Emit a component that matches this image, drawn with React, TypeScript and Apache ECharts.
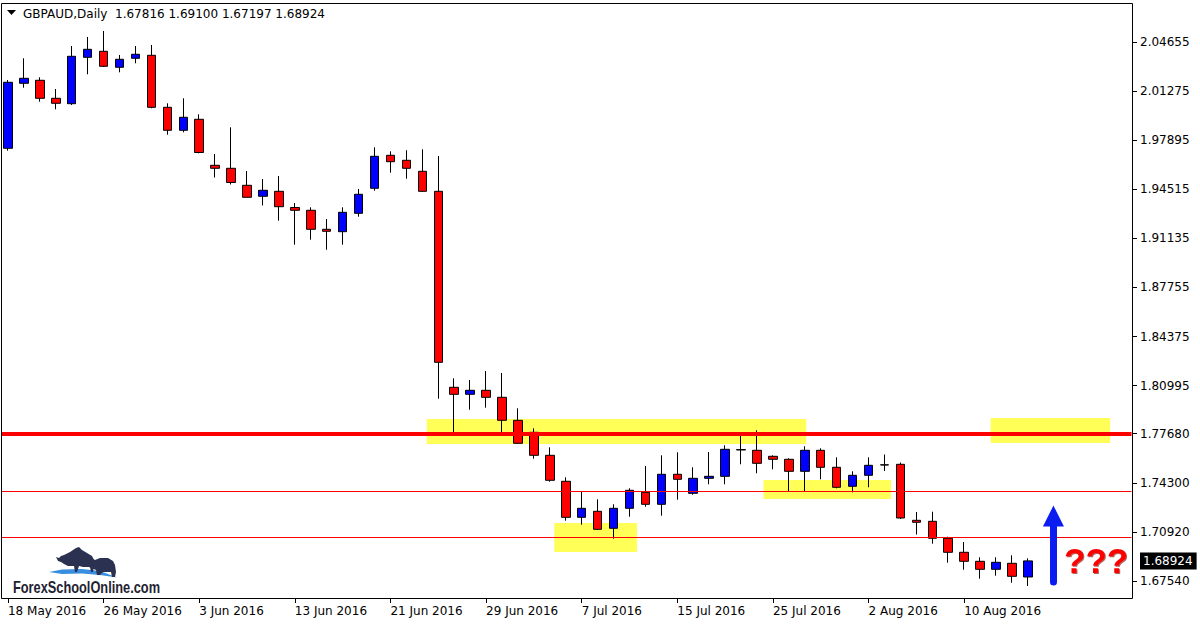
import React, { useEffect, useRef } from 'react';
import * as echarts from 'echarts';

const SYMBOL = 'GBPAUD,Daily';

const dates = [
  '18 May 2016','19 May 2016','20 May 2016','23 May 2016','24 May 2016','25 May 2016','26 May 2016','27 May 2016','30 May 2016','31 May 2016',
  '1 Jun 2016','2 Jun 2016','3 Jun 2016','6 Jun 2016','7 Jun 2016','8 Jun 2016','9 Jun 2016','10 Jun 2016','13 Jun 2016','14 Jun 2016',
  '15 Jun 2016','16 Jun 2016','17 Jun 2016','20 Jun 2016','21 Jun 2016','22 Jun 2016','23 Jun 2016','24 Jun 2016','27 Jun 2016','28 Jun 2016',
  '29 Jun 2016','30 Jun 2016','1 Jul 2016','4 Jul 2016','5 Jul 2016','6 Jul 2016','7 Jul 2016','8 Jul 2016','11 Jul 2016','12 Jul 2016',
  '13 Jul 2016','14 Jul 2016','15 Jul 2016','18 Jul 2016','19 Jul 2016','20 Jul 2016','21 Jul 2016','22 Jul 2016','25 Jul 2016','26 Jul 2016',
  '27 Jul 2016','28 Jul 2016','29 Jul 2016','1 Aug 2016','2 Aug 2016','3 Aug 2016','4 Aug 2016','5 Aug 2016','8 Aug 2016','9 Aug 2016',
  '10 Aug 2016','11 Aug 2016','12 Aug 2016','15 Aug 2016','16 Aug 2016'
];

const opens = [
  1.97335, 2.01811, 2.02018, 2.00778, 2.00406, 2.03601, 2.04015, 2.02913, 2.03532, 2.03739,
  2.00158, 1.98575, 1.99332, 1.96165, 1.95958, 1.94787, 1.94030, 1.94374, 1.93259, 1.93066,
  1.91758, 1.91592, 1.92859, 1.94581, 1.96853, 1.96509, 1.95751, 1.94374, 1.80877, 1.80395,
  1.80671, 1.80189, 1.78605, 1.77779, 1.76195, 1.74405, 1.71926, 1.72339, 1.71168, 1.72545,
  1.73647, 1.72821, 1.74887, 1.73578, 1.74611, 1.74749, 1.76594, 1.76539, 1.76126, 1.75920,
  1.75093, 1.76539, 1.75369, 1.74060, 1.74818, 1.75541, 1.75575, 1.71719, 1.71650, 1.70480,
  1.69516, 1.68896, 1.68345, 1.68758, 1.67816
];
const closes = [
  2.01880, 2.02155, 2.00778, 2.00434, 2.03670, 2.04152, 2.02982, 2.03464, 2.03808, 2.00158,
  1.98575, 1.99470, 1.97046, 1.95958, 1.94980, 1.93961, 1.94443, 1.93314, 1.93066, 1.91758,
  1.91620, 1.92928, 1.94167, 1.96784, 1.96412, 1.95958, 1.94374, 1.82599, 1.80395, 1.80671,
  1.80189, 1.78605, 1.77021, 1.76195, 1.74474, 1.71926, 1.72545, 1.71099, 1.72545, 1.73785,
  1.72821, 1.74887, 1.74542, 1.74611, 1.74749, 1.76608, 1.76560, 1.75644, 1.75920, 1.75093,
  1.76539, 1.75369, 1.73992, 1.74818, 1.75506, 1.75527, 1.71878, 1.71582, 1.70480, 1.69516,
  1.68896, 1.68345, 1.68827, 1.67863, 1.68924
];
const lows = [
  1.97170, 2.01508, 2.00544, 2.00021, 2.00317, 2.02431, 2.02933, 2.02568, 2.03188, 2.00090,
  1.98272, 1.98437, 1.96991, 1.95324, 1.94842, 1.93947, 1.93396, 1.92350, 1.90697, 1.91041,
  1.90353, 1.90697, 1.92625, 1.94415, 1.95655, 1.95242, 1.94340, 1.80092, 1.77682, 1.79335,
  1.79473, 1.77545, 1.76987, 1.75961, 1.74377, 1.71692, 1.71416, 1.71065, 1.70452, 1.71967,
  1.72656, 1.72036, 1.73138, 1.73482, 1.74198, 1.74198, 1.75575, 1.74956, 1.75231, 1.73716,
  1.73716, 1.74542, 1.73923, 1.73647, 1.73992, 1.75114, 1.71809, 1.70741, 1.70108, 1.68800,
  1.68318, 1.67698, 1.67904, 1.67422, 1.67197
];
const highs = [
  2.02038, 2.03532, 2.02224, 2.01418, 2.04379, 2.04999, 2.05412, 2.03760, 2.04379, 2.04448,
  2.00434, 2.00778, 1.99676, 1.96943, 1.98781, 1.95772, 1.95221, 1.95428, 1.93568, 1.93272,
  1.92467, 1.93272, 1.94532, 1.97404, 1.97128, 1.97197, 1.97266, 1.96805, 1.81497, 1.81380,
  1.82000, 1.81862, 1.79431, 1.78054, 1.76746, 1.74680, 1.73689, 1.73165, 1.72821, 1.73923,
  1.75458, 1.76195, 1.76402, 1.75369, 1.76422, 1.76884, 1.77779, 1.77917, 1.76195, 1.75989,
  1.76815, 1.76677, 1.76057, 1.75093, 1.76057, 1.76250, 1.75699, 1.72291, 1.72311, 1.70590,
  1.70225, 1.69172, 1.69172, 1.69309, 1.69100
];

// empty bars to the right (chart shift)
const SHIFT_BARS = 6;
const LABEL_EVERY = 6;

const priceTicks = [1.67540, 1.70920, 1.74300, 1.77680, 1.80995, 1.84375, 1.87755, 1.91135, 1.94515, 1.97895, 2.01275, 2.04655];
const Y_MIN = 1.66300;
const Y_MAX = 2.07340;

// horizontal levels
const mainLevel = 1.77680;
const thinLevels = [1.73702, 1.70534];

// highlighted zones (bar-index units and prices)
const zoneStart = [26.28, 34.28, 47.41, 61.66];
const zoneEnd = [50.09, 39.47, 55.41, 69.16];
const zoneLow = [1.76973, 1.69536, 1.73186, 1.77042];
const zoneHigh = [1.78695, 1.71533, 1.74494, 1.78764];

// annotation arrow (bar-index, price from, price to)
const arrowX = 65.6;
const arrowFrom = 1.67470;
const arrowTo = 1.72015;

const FONT = '"DejaVu Sans", Verdana, sans-serif';

export default function App() {
  const ref = useRef<HTMLDivElement>(null);

  useEffect(() => {
    const el = ref.current;
    if (!el) return;
    const chart = echarts.init(el, null, { renderer: 'svg' });

    const last = opens.length - 1;
    const current = closes[last];
    const categories = dates.concat(Array.from({ length: SHIFT_BARS }, (_, i) => '+' + (i + 1)));
    const nCat = categories.length;
    const showIdx = (idx: number) => idx % LABEL_EVERY === 0 && idx < dates.length;

    const candleData = opens.map((o, i) => [o, closes[i], lows[i], highs[i]]);
    const header = `${SYMBOL}  ${opens[last].toFixed(5)} ${highs[last].toFixed(5)} ${lows[last].toFixed(5)} ${closes[last].toFixed(5)}`;

    const yLabelValues = priceTicks.concat([current]);

    const thinStyle = { type: 'solid', color: '#ff0000', width: 1, opacity: 1 };
    const mainStyle = { type: 'solid', color: '#ff0000', width: 4, opacity: 1 };

    const option: any = {
      animation: false,
      backgroundColor: '#ffffff',
      textStyle: { fontFamily: FONT },
      grid: { left: -4.5, top: 3, width: 16 * nCat, height: 596, containLabel: false },
      xAxis: [
        {
          type: 'category',
          data: categories,
          boundaryGap: true,
          axisLine: { show: false, onZero: false },
          axisTick: {
            show: true,
            length: 4,
            alignWithLabel: true,
            interval: (idx: number) => showIdx(idx),
            lineStyle: { color: '#000', width: 1 },
          },
          axisLabel: {
            interval: (idx: number) => showIdx(idx),
            align: 'left',
            margin: 6,
            color: '#000',
            fontSize: 12,
            fontFamily: FONT,
          },
          splitLine: { show: false },
        },
        {
          type: 'value',
          min: -0.5,
          max: nCat - 0.5,
          show: false,
          position: 'top',
          axisLine: { onZero: false },
        },
      ],
      yAxis: {
        type: 'value',
        position: 'right',
        offset: 1.5,
        min: Y_MIN,
        max: Y_MAX,
        splitLine: { show: false },
        axisLine: { show: false, onZero: false },
        axisTick: {
          show: true,
          length: 4,
          customValues: priceTicks,
          lineStyle: { color: '#000', width: 1 },
        },
        axisLabel: {
          customValues: yLabelValues,
          margin: 7,
          color: '#000',
          fontSize: 12,
          fontFamily: FONT,
          formatter: (v: number) =>
            Math.abs(v - current) < 1e-7 ? `{cur|${v.toFixed(5)}}` : v.toFixed(5),
          rich: {
            cur: {
              backgroundColor: '#000',
              color: '#fff',
              fontSize: 12,
              fontFamily: FONT,
              padding: [3, 4, 2, 3],
            },
          },
        },
      },
      series: [
        {
          name: 'zones',
          type: 'line',
          xAxisIndex: 1,
          yAxisIndex: 0,
          data: [],
          silent: true,
          z: 1,
          markArea: {
            silent: true,
            itemStyle: { color: '#ffff58', opacity: 1 },
            label: { show: false },
            data: zoneStart.map((s, i) => [
              { coord: [s, zoneHigh[i]] },
              { coord: [zoneEnd[i], zoneLow[i]] },
            ]),
          },
        },
        {
          name: 'levels',
          type: 'line',
          xAxisIndex: 1,
          yAxisIndex: 0,
          color: '#ff0000',
          data: [],
          silent: true,
          z: 1,
          markLine: {
            silent: true,
            precision: 6,
            symbol: 'none',
            label: { show: false },
            lineStyle: thinStyle,
            emphasis: { disabled: true },
            data: [
              { yAxis: mainLevel, lineStyle: mainStyle },
              ...thinLevels.map((v) => ({ yAxis: v, lineStyle: thinStyle })),
            ],
          },
        },
        {
          name: SYMBOL,
          type: 'candlestick',
          xAxisIndex: 0,
          yAxisIndex: 0,
          data: candleData,
          barWidth: 9,
          z: 2,
          itemStyle: {
            color: '#0000ff',
            color0: '#ff0000',
            borderColor: '#000000',
            borderColor0: '#000000',
            borderColorDoji: '#000000',
            borderWidth: 1,
          },
        },
        {
          name: 'arrow',
          type: 'line',
          xAxisIndex: 1,
          yAxisIndex: 0,
          data: [],
          silent: true,
          z: 3,
          markLine: {
            silent: true,
            precision: 6,
            symbol: ['none', 'triangle'],
            symbolSize: 21,
            label: { show: false },
            lineStyle: { type: 'solid', color: '#0a1cf0', width: 7, cap: 'round' },
            itemStyle: { color: '#0a1cf0' },
            data: [[{ coord: [arrowX, arrowFrom] }, { coord: [arrowX, arrowTo] }]],
          },
        },
      ],
      graphic: [
        // hide candle overflow left of the frame
        { type: 'rect', z: 90, silent: true, shape: { x: 0, y: 0, width: 1.5, height: 600 }, style: { fill: '#fff' } },
        // chart frame
        {
          type: 'rect',
          z: 100,
          silent: true,
          shape: { x: 1.5, y: 3.5, width: 1131, height: 595 },
          style: { fill: 'none', stroke: '#000', lineWidth: 1 },
        },
        // header
        { type: 'polygon', z: 101, silent: true, shape: { points: [[7, 10], [16, 10], [11.5, 15]] }, style: { fill: '#000' } },
        {
          type: 'text',
          z: 101,
          silent: true,
          x: 23,
          y: 14,
          style: { text: header, fill: '#000', font: `12px ${FONT}`, verticalAlign: 'middle' },
        },
        // question marks
        {
          type: 'text',
          z: 101,
          silent: true,
          x: 1064,
          y: 560,
          style: {
            text: '???',
            fill: '#ff0000',
            font: 'bold 35px "Liberation Sans", Arial, sans-serif',
            verticalAlign: 'middle',
            textShadowColor: 'rgba(120,0,0,0.6)',
            textShadowOffsetX: 1,
            textShadowOffsetY: 1,
            textShadowBlur: 1,
          },
        },
        // logo
        {
          type: 'group',
          z: 101,
          silent: true,
          children: [
            {
              type: 'polygon',
              shape: { points: [[49, 572], [62, 569.5], [82, 569], [100, 571], [117, 577.5], [100, 575], [82, 573.5], [62, 574]] },
              style: { fill: '#3a8ee0' },
            },
            {
              type: 'polygon',
              shape: {
                points: [[56, 557], [59, 558], [61, 556], [64, 555], [70, 552], [76, 548], [79, 547], [82, 550], [87, 553], [92, 556], [94, 560], [94, 566], [93, 572], [91, 572], [90, 567], [83, 567], [79, 566], [77, 572], [75, 572], [74, 566], [68, 566], [64, 564], [61, 562], [58, 561]],
              },
              style: { fill: '#2b3150' },
            },
            {
              type: 'polygon',
              shape: {
                points: [[87, 566], [88, 563], [91, 561], [93, 559], [95, 560], [100, 558], [108, 558], [113, 561], [115, 565], [116, 572], [115, 577], [112, 577], [111, 572], [103, 572], [100, 575], [97, 575], [96, 570], [91, 568]],
              },
              style: { fill: '#2b3150' },
            },
            {
              type: 'text',
              x: 13,
              y: 587,
              scaleX: 0.8,
              style: {
                text: 'ForexSchoolOnline.com',
                fill: '#1f2230',
                font: 'bold 16px "Liberation Sans", Arial, sans-serif',
                verticalAlign: 'middle',
              },
            },
          ],
        },
      ],
    };

    chart.setOption(option);
    return () => chart.dispose();
  }, []);

  return (
    <div
      ref={ref}
      style={{ position: 'fixed', left: 0, top: 0, width: 1200, height: 626, background: '#fff' }}
    />
  );
}
